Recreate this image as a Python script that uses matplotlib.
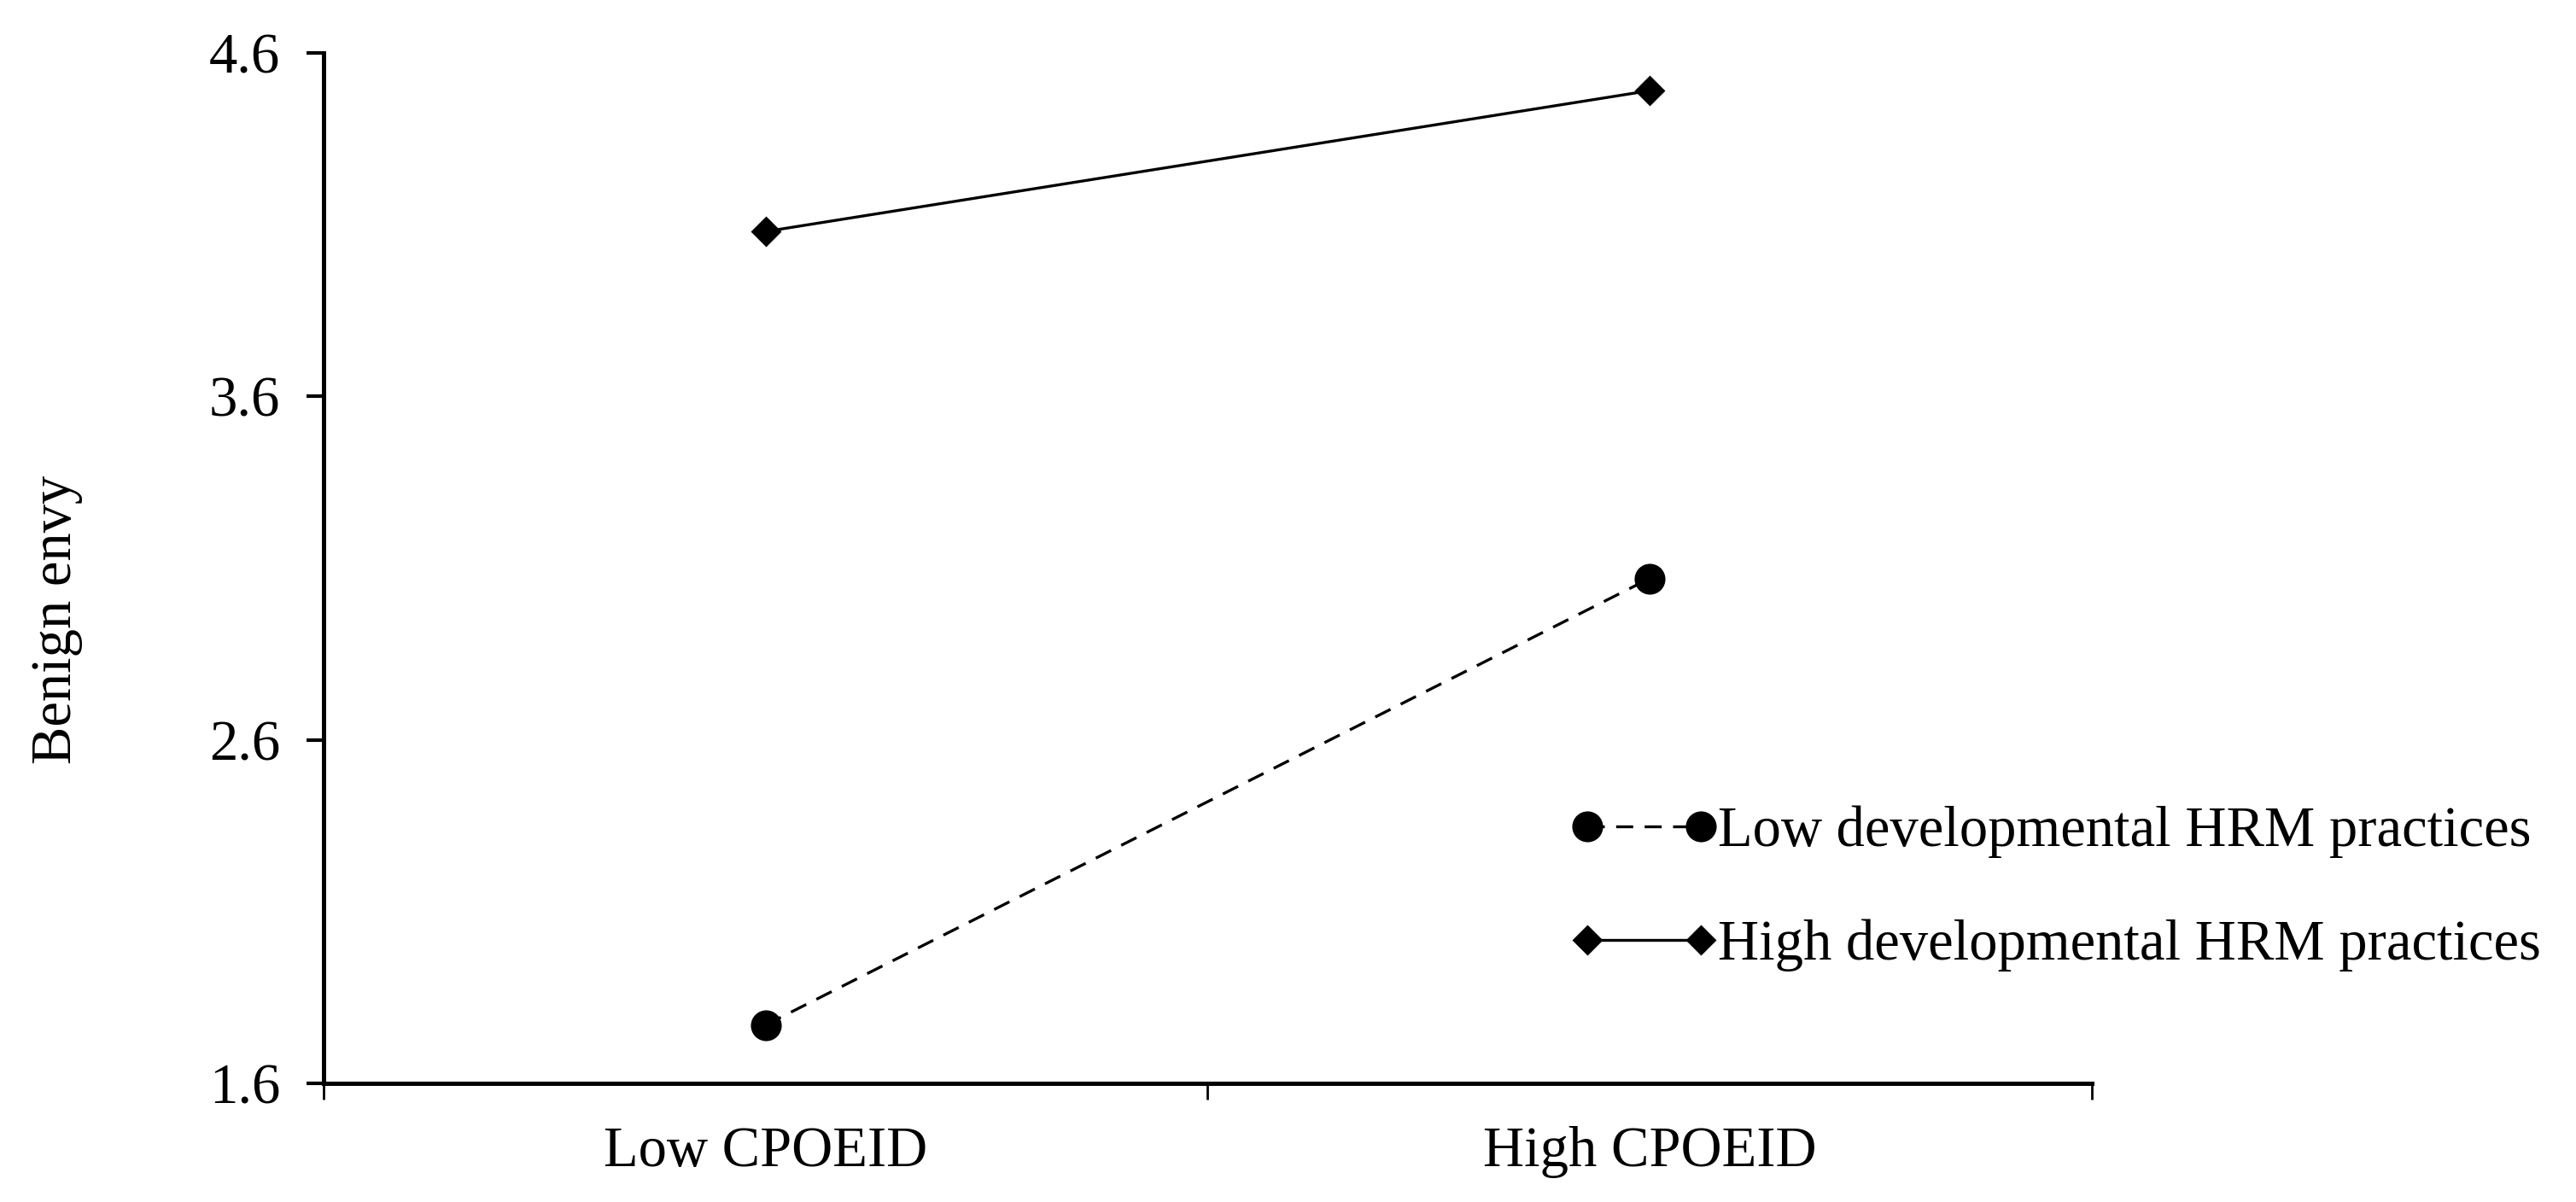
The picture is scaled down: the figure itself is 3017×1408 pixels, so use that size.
import matplotlib.pyplot as plt

# Simple slopes data
categories = ['Low CPOEID', 'High CPOEID']
low_hrm = [1.77, 3.07]
high_hrm = [4.08, 4.49]
series_labels = ['Low developmental HRM practices', 'High developmental HRM practices']
y_ticks = [1.6, 2.6, 3.6, 4.6]

plt.rcParams['font.family'] = ['Liberation Serif', 'DejaVu Serif']
fs = 24

fig = plt.figure(figsize=(15.085, 7.04), dpi=200)
ax = fig.add_axes([0.1256, 0.0987, 0.812 - 0.1256, 0.956 - 0.0987])

x = [0.5, 1.5]
ax.plot(x, low_hrm, color='black', lw=1.2, dashes=(6, 4), marker='o', markersize=12,
        label=series_labels[0])
ax.plot(x, high_hrm, color='black', lw=1.2, marker='D', markersize=8,
        label=series_labels[1])

ax.set_xlim(0, 2)
ax.set_ylim(1.6, 4.6)

# category boundaries get the tick marks, labels sit in between
ax.set_xticks([0, 1, 2])
ax.set_xticklabels([])
ax.set_xticks(x, minor=True)
ax.set_xticklabels(categories, minor=True)
ax.tick_params(axis='x', which='major', direction='out', length=7, width=1)
ax.tick_params(axis='x', which='minor', length=0, pad=18, labelsize=fs)

ax.set_yticks(y_ticks)
ax.set_yticklabels([f'{v:.1f}' for v in y_ticks])
ax.tick_params(axis='y', direction='out', length=7.2, width=1.5, pad=11, labelsize=fs)

for side in ['top', 'right']:
    ax.spines[side].set_visible(False)
ax.spines['left'].set_linewidth(1.8)
ax.spines['bottom'].set_linewidth(1.8)

ax.set_ylabel('Benign envy', fontsize=fs)
ax.yaxis.set_label_coords(-0.136, 0.45)

fig.legend(loc='center left', bbox_to_anchor=(0.6095, 0.2607), frameon=False,
           fontsize=fs, numpoints=2, handlelength=2.6, handletextpad=0.0,
           labelspacing=1.08, borderpad=0, borderaxespad=0)

fig.savefig('out.png', dpi=200, facecolor='white')
